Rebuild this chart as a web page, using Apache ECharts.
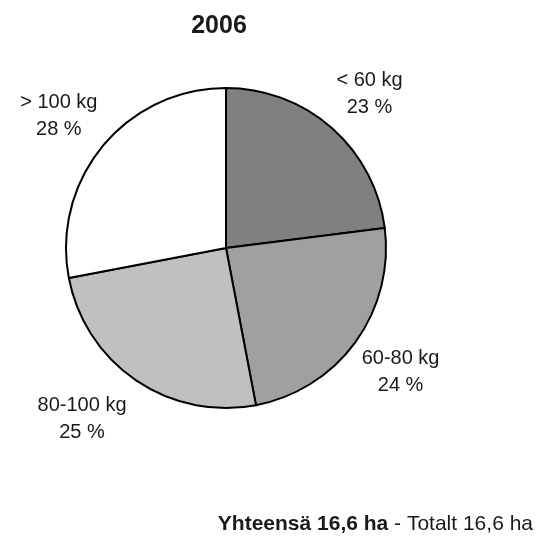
<!DOCTYPE html>
<html>
<head>
<meta charset="utf-8">
<script src="https://cdn.jsdelivr.net/npm/echarts@6/dist/echarts.min.js"></script>
<style>
  html, body { margin: 0; padding: 0; background: #fff; }
  #chart { width: 546px; height: 550px; }
</style>
</head>
<body>
<div id="chart"></div>
<script>
  const categories = ["< 60 kg", "60-80 kg", "80-100 kg", "> 100 kg"];
  const values = [23, 24, 25, 28];
  const colors = ["#808080", "#a0a0a0", "#c0c0c0", "#ffffff"];

  const font = "Liberation Sans, Arial, sans-serif";

  // small nudges so the labels sit where the original puts them
  const labelNudge = [[0, 9], [-1, -4], [-22, -8], [0, 6]];

  const pieData = categories.map((name, i) => ({
    name: name,
    value: values[i],
    itemStyle: { color: colors[i] },
  }));

  const myChart = echarts.init(document.getElementById("chart"));

  let option = {
    animation: false,
    title: [
      {
        text: "2006",
        left: 214,
        top: 9,
        textAlign: "center",
        textStyle: { fontFamily: font, fontSize: 25, fontWeight: "bold", color: "#1a1a1a" },
      },
      {
        text: "{b|Yhteensä 16,6 ha} - Totalt 16,6 ha",
        right: 13,
        top: 514,
        padding: 0,
        textStyle: {
          fontFamily: font,
          fontSize: 21,
          fontWeight: "normal",
          color: "#1a1a1a",
          rich: {
            b: { fontFamily: font, fontSize: 21, fontWeight: "bold", color: "#1a1a1a" },
          },
        },
      },
    ],
    series: [
      {
        type: "pie",
        center: [226, 248],
        radius: [0, 160],
        startAngle: 90,
        clockwise: true,
        silent: true,
        itemStyle: { borderColor: "#000", borderWidth: 2 },
        label: { show: false },
        labelLine: { show: false },
        data: pieData,
      },
      {
        // invisible ring, only used to put labels at a fixed distance
        type: "pie",
        center: [226, 248],
        radius: [0, 428],
        startAngle: 90,
        clockwise: true,
        silent: true,
        z: 1,
        itemStyle: { color: "rgba(0,0,0,0)", borderWidth: 0 },
        label: {
          show: true,
          position: "inside",
          rotate: 0,
          formatter: "{b}\n{c} %",
          fontFamily: font,
          fontSize: 20,
          lineHeight: 27,
          color: "#1a1a1a",
        },
        labelLine: { show: false },
        data: categories.map((name, i) => ({
          name: name,
          value: values[i],
          label: { offset: labelNudge[i] },
        })),
      },
    ],
  };

  myChart.setOption(option);
</script>
</body>
</html>
